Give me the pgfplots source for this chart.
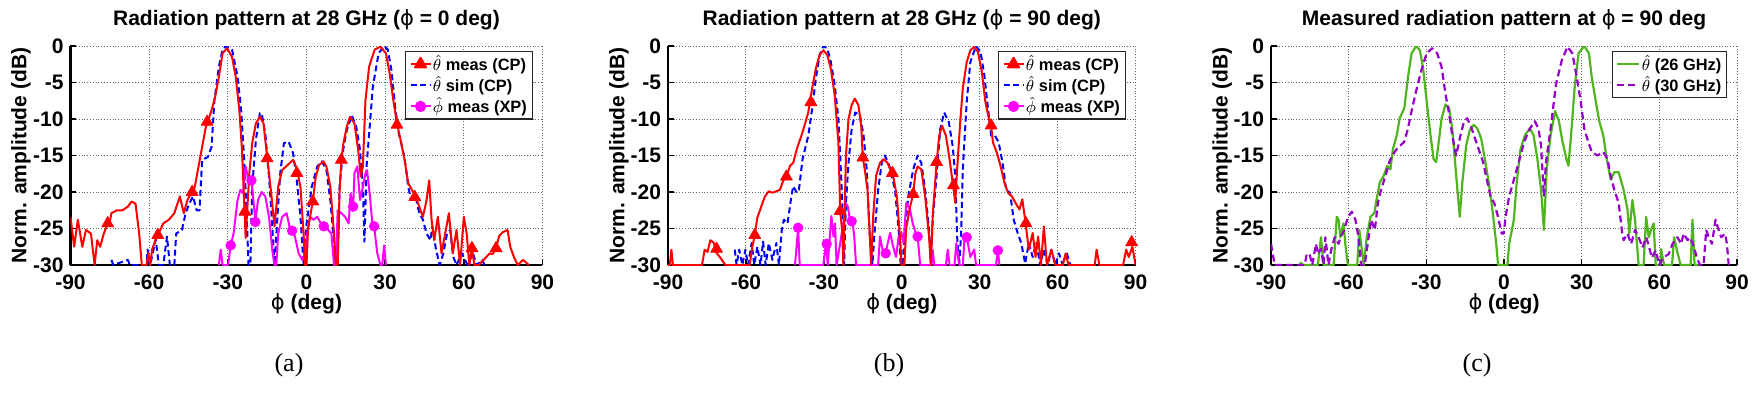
\documentclass[border=0pt]{standalone}
\usepackage{pgfplots}
\pgfplotsset{compat=1.18}
\usepackage{fontspec}
\setmainfont{Liberation Sans}
\newfontfamily\capfont{Liberation Serif}
\newfontfamily\dejavu{DejaVu Sans}
\newcommand{\ph}{{\mdseries\dejavu ϕ}}
\definecolor{g26}{RGB}{80,180,30}
\definecolor{p30}{RGB}{150,0,200}
\definecolor{mag}{RGB}{255,0,255}
\definecolor{rd}{RGB}{255,0,0}
\definecolor{bl}{RGB}{0,0,255}
\pgfplotsset{
  rp/.style={
    scale only axis, height=109.5pt,
    xmin=-90, xmax=90, ymin=-30, ymax=0,
    xtick={-90,-60,-30,0,30,60,90}, ytick={-30,-25,-20,-15,-10,-5,0},
    xticklabels={-90,-60,-30,0,30,60,90}, yticklabels={-30,-25,-20,-15,-10,-5,0},
    axis x line*=bottom, axis y line*=left,
    axis line style={line width=1.2pt,-},
    grid=major, major grid style={densely dotted, black!60, line width=0.5pt},
    tick align=inside, major tick length=3pt, tick style={black, line width=0.8pt},
    ticklabel style={font=\bfseries\fontsize{10.5}{12}\selectfont},
    xticklabel style={anchor=base, yshift=-12.25pt},
    xlabel={\ph\ (deg)}, ylabel={Norm. amplitude (dB)},
    label style={font=\bfseries\fontsize{10.5}{12}\selectfont},
    xlabel style={at={(axis description cs:0.5,0)}, anchor=base, yshift=-22pt},
    ylabel style={at={(axis description cs:-0.105,0.5)}, anchor=center},
    title style={at={(axis description cs:0.5,1)}, anchor=base, yshift=4.5pt, font=\bfseries\fontsize{10.5}{12}\selectfont},
    legend cell align=left,
    legend style={at={(axis description cs:1,1)}, anchor=north east, xshift=-4.8pt, yshift=-2.5pt,
      draw=black!85, line width=0.6pt, fill=white, font=\bfseries\fontsize{8.2}{8.2}\selectfont,
      inner xsep=2pt, inner ysep=1pt, row sep=0pt, nodes={inner sep=0.7pt}},
    legend image code/.code={\draw[mark repeat=2,mark phase=2,#1] plot coordinates {(0pt,0pt)(5pt,0pt)(10pt,0pt)};},
    every axis plot/.append style={line join=round},
  },
  redl/.style={rd, line width=1pt, mark=none},
  redm/.style={rd, only marks, mark=triangle*, mark size=3.4pt, mark options={solid, fill=rd}},
  bluel/.style={bl, line width=1pt, dash pattern=on 3pt off 1.8pt, mark=none},
  magl/.style={mag, line width=1pt, mark=none},
  magm/.style={mag, only marks, mark=*, mark size=2.4pt, mark options={solid, fill=mag}},
}
\begin{document}
\begin{tikzpicture}
\useasboundingbox (0,0) rectangle (877pt,196pt);
% ---------------- (a)
\begin{axis}[rp, width=236pt, at={(35.25pt,63.5pt)}, anchor=south west,
  title={Radiation pattern at 28 GHz (\ph\ = 0 deg)}]
\addlegendimage{rd, line width=1pt, mark=triangle*, mark size=3.2pt, mark options={fill=rd}}
\addlegendentry{$\hat{\theta}$ meas (CP)}
\addlegendimage{bl, line width=1pt, dash pattern=on 3pt off 1.8pt}
\addlegendentry{$\hat{\theta}$ sim (CP)}
\addlegendimage{mag, line width=1pt, mark=*, mark size=2.3pt, mark options={fill=mag}}
\addlegendentry{$\hat{\phi}$ meas (XP)}
\addplot[bluel, forget plot] coordinates {(-74.4,-29.3)(-73.7,-30)(-68.1,-29.3)(-67.4,-30)(-61.0,-30)(-60.6,-27.9)(-59.6,-30)(-57.5,-26.5)(-56.3,-30)(-54.6,-30)(-53.2,-26.1)(-52.1,-30)(-50.4,-30)(-49.7,-25.7)(-47.5,-25.2)(-46.1,-22.9)(-44.7,-21.6)(-43.3,-20.6)(-41.9,-22.5)(-40.8,-22.5)(-39.8,-15.6)(-37.6,-15.2)(-36.2,-13.8)(-35.1,-7.4)(-33.4,-2.8)(-32.0,-0.5)(-30.8,0)(-28.4,-0.5)(-26.3,-4.2)(-24.9,-8.8)(-24.2,-12.9)(-23.5,-17.4)(-22.8,-23.4)(-22.1,-30)(-21.4,-30)(-20.7,-19.3)(-19.3,-12.9)(-17.8,-9.2)(-17.1,-9.2)(-15.7,-12.0)(-14.3,-17.9)(-13.2,-23.8)(-12.2,-30)(-11.0,-22.9)(-10.0,-17.4)(-8.6,-13.3)(-6.8,-13.1)(-5.1,-14.7)(-3.7,-18.4)(-2.3,-23.4)(-1.1,-30)(-0.1,-24.7)(2.0,-19.3)(4.1,-16.5)(5.9,-15.8)(7.6,-17.0)(9.1,-21.1)(10.2,-25.7)(11.2,-30)(11.9,-30)(12.6,-19.3)(14.0,-14.2)(15.4,-11.5)(17.3,-9.5)(19.0,-11.1)(20.4,-14.2)(21.5,-19.3)(22.1,-26.8)(22.9,-16.5)(23.9,-12.0)(25.3,-5.6)(27.5,-1.0)(29.6,0)(31.0,-0.5)(32.4,-3.3)(33.8,-8.3)(35.2,-12.0)(37.4,-15.2)(38.8,-19.3)(39.9,-21.1)(41.6,-20.6)(43.0,-22.9)(44.4,-23.8)(45.8,-25.7)(47.3,-26.6)(48.0,-24.7)(49.4,-27.9)(50.8,-30)(52.2,-28.4)(53.6,-25.7)(54.8,-25.2)(56.0,-28.9)(57.2,-30)(59.3,-28.4)(61.4,-30)(63.5,-28.4)(64.9,-30)(67.1,-29.3)(67.8,-30)};
\addplot[magl, forget plot] coordinates {(-33.4,-30)(-32.7,-27.9)(-32.0,-30)(-29.9,-30)(-28.9,-27.3)(-27.8,-25.7)(-26.3,-21.1)(-25.2,-19.7)(-24.2,-20.2)(-23.2,-16.5)(-22.1,-18.4)(-21.0,-18.4)(-20.0,-22.0)(-19.5,-24.1)(-18.5,-21.1)(-17.1,-20.0)(-15.7,-20.6)(-14.3,-23.4)(-12.9,-28.4)(-12.2,-30)(-11.5,-30)(-10.8,-25.7)(-9.3,-23.4)(-7.6,-22.9)(-6.5,-24.7)(-5.5,-25.3)(-4.4,-26.1)(-3.0,-28.4)(-1.6,-29.3)(-0.6,-28.4)(0.3,-25.7)(1.3,-23.4)(2.7,-23.8)(4.1,-23.4)(5.5,-24.3)(6.6,-24.7)(8.3,-25.2)(9.5,-25.7)(10.5,-30)(11.2,-30)(11.9,-22.5)(13.3,-22.9)(14.7,-23.4)(16.1,-24.3)(16.8,-20.2)(17.8,-22.0)(18.3,-17.4)(19.4,-16.5)(20.4,-21.1)(21.5,-19.3)(22.5,-17.4)(23.1,-17.0)(24.2,-20.6)(25.2,-24.7)(25.8,-24.7)(27.0,-28.4)(28.2,-30)(28.9,-30)(29.6,-27.3)(30.3,-30)};
\addplot[magm, forget plot] coordinates {(-28.9,-27.3)(-21.0,-18.4)(-19.5,-24.1)(-5.5,-25.3)(6.6,-24.7)(17.8,-22.0)(25.8,-24.7)};
\addplot[redl, forget plot] coordinates {(-90,-23.4)(-88.6,-27.5)(-87.2,-23.8)(-85.5,-27.5)(-84.1,-25.2)(-82.2,-25.7)(-80.8,-30)(-79.8,-26.6)(-78.7,-27.5)(-77.3,-25.7)(-75.8,-24.3)(-75.1,-24.3)(-74.4,-22.9)(-72.3,-22.5)(-70.2,-22.5)(-68.1,-22.0)(-66.7,-21.3)(-65.2,-21.6)(-63.8,-25.7)(-62.8,-30)(-61.0,-30)(-60.3,-28.4)(-59.6,-30)(-58.9,-27.9)(-57.5,-26.5)(-56.7,-25.9)(-54.6,-24.3)(-52.5,-23.8)(-50.4,-22.9)(-48.3,-20.6)(-46.8,-22.9)(-45.4,-21.1)(-44.0,-20.2)(-42.6,-19.3)(-40.5,-15.2)(-38.4,-11.1)(-36.2,-8.8)(-34.8,-6.9)(-33.4,-4.2)(-32.0,-1.0)(-30.3,-0.3)(-28.4,-1.5)(-27.0,-4.2)(-25.6,-8.8)(-24.6,-14.2)(-23.8,-21.1)(-23.2,-26.3)(-21.8,-17.4)(-20.7,-13.3)(-19.3,-10.6)(-17.8,-9.7)(-16.4,-10.6)(-15.0,-15.2)(-13.6,-19.7)(-12.2,-24.7)(-10.8,-19.3)(-9.3,-17.0)(-7.2,-16.3)(-5.1,-15.6)(-3.7,-16.8)(-2.3,-19.3)(-1.1,-25.7)(-0.6,-30)(0,-30)(0.6,-25.0)(2.4,-21.3)(3.5,-18.0)(4.8,-16.3)(6.5,-15.8)(7.6,-16.5)(9.1,-19.3)(10.5,-25.7)(11.2,-30)(11.9,-30)(12.6,-20.0)(13.3,-15.6)(14.0,-13.5)(15.4,-11.0)(16.6,-9.7)(18.3,-10.6)(19.7,-14.2)(20.7,-17.9)(21.5,-16.5)(22.5,-7.4)(23.9,-2.8)(26.0,-0.5)(28.2,-0.1)(30.3,-1.0)(31.7,-3.7)(33.1,-7.4)(34.5,-10.6)(35.9,-12.9)(37.4,-15.6)(38.8,-18.8)(40.2,-19.7)(41.6,-20.6)(43.0,-22.0)(44.4,-23.4)(45.8,-21.1)(46.8,-18.4)(47.7,-23.8)(48.7,-26.6)(50.1,-23.4)(51.5,-28.4)(52.9,-25.7)(54.3,-22.9)(55.8,-28.4)(57.2,-25.2)(58.6,-30)(60.0,-23.4)(61.1,-25.7)(62.1,-30)(63.1,-27.7)(64.0,-30)(65.7,-30)(69.9,-28.4)(71.0,-28.5)(72.3,-27.7)(73.5,-26.0)(74.9,-25.5)(76.7,-25.2)(77.7,-27.5)(79.1,-28.9)(80.5,-30)(82.6,-29.3)(84.8,-30)};
\addplot[redm, forget plot] coordinates {(-75.8,-24.3)(-56.7,-25.9)(-43.6,-20)(-37.9,-10.4)(-23.5,-22.7)(-15.0,-15.4)(-3.7,-17.4)(2.4,-21.3)(13.3,-15.6)(34.5,-10.8)(41.3,-20.7)(63.1,-27.7)(72.3,-27.7)};
\end{axis}
% ---------------- (b)
\begin{axis}[rp, width=233.75pt, at={(334pt,63.5pt)}, anchor=south west,
  title={Radiation pattern at 28 GHz (\ph\ = 90 deg)}]
\addlegendimage{rd, line width=1pt, mark=triangle*, mark size=3.2pt, mark options={fill=rd}}
\addlegendentry{$\hat{\theta}$ meas (CP)}
\addlegendimage{bl, line width=1pt, dash pattern=on 3pt off 1.8pt}
\addlegendentry{$\hat{\theta}$ sim (CP)}
\addlegendimage{mag, line width=1pt, mark=*, mark size=2.3pt, mark options={fill=mag}}
\addlegendentry{$\hat{\phi}$ meas (XP)}
\addplot[bluel, forget plot] coordinates {(-64.3,-27.9)(-63.6,-30)(-62.6,-27.9)(-61.4,-30)(-60.2,-27.9)(-59.2,-30)(-57.8,-27.0)(-56.8,-30)(-55.6,-27.5)(-54.4,-30)(-53.4,-26.8)(-52.4,-30)(-51.2,-27.0)(-49.8,-29.3)(-48.3,-27.0)(-47.3,-30)(-46.2,-25.2)(-45.4,-23.8)(-44.0,-24.3)(-42.5,-20.6)(-41.8,-19.2)(-40.4,-20.1)(-39.6,-19.7)(-38.2,-15.5)(-36.0,-12.3)(-34.5,-8.6)(-33.1,-4.5)(-31.6,-1.2)(-30.2,0)(-28.7,-0.3)(-27.3,-2.2)(-25.8,-5.4)(-24.4,-10.0)(-23.7,-15.0)(-22.9,-21.5)(-22.2,-30)(-21.5,-21.5)(-20.5,-16.0)(-19.3,-11.4)(-17.9,-9.1)(-16.1,-9.5)(-14.7,-12.3)(-13.5,-16.9)(-12.3,-26.1)(-11.3,-30)(-10.6,-26.1)(-9.1,-19.7)(-7.7,-16.0)(-6.5,-15.0)(-4.8,-16.4)(-2.6,-19.7)(-1.2,-25.2)(-0.4,-30)(0.3,-30)(1.0,-26.1)(2.5,-20.6)(4.4,-16.9)(6.1,-15.0)(7.5,-16.0)(9.0,-19.7)(10.5,-25.2)(11.2,-30)(11.9,-23.8)(13.4,-17.8)(14.8,-11.4)(16.3,-9.1)(18.1,-10.4)(19.6,-13.7)(20.6,-17.8)(21.3,-26.1)(22.1,-30)(22.8,-26.1)(23.5,-16.9)(25.0,-7.7)(26.4,-2.2)(28.6,0)(30.3,-0.8)(31.8,-4.0)(33.2,-8.6)(34.4,-12.3)(35.9,-12.3)(37.3,-13.2)(38.8,-16.0)(40.2,-19.7)(41.7,-20.1)(43.1,-23.8)(44.6,-25.6)(46.0,-27.0)(47.5,-29.8)(48.9,-27.0)(50.4,-28.9)(51.8,-27.0)(53.3,-30)(54.7,-27.9)(56.2,-30)(57.6,-27.9)(59.1,-30)(60.5,-28.4)(62.0,-30)(63.4,-28.2)(64.9,-30)(66.3,-30)};
\addplot[magl, forget plot] coordinates {(-41.1,-30)(-39.9,-24.9)(-39.3,-30)(-30.2,-30)(-29.2,-27.0)(-28.5,-30)(-27.7,-26.1)(-27.1,-23.3)(-26.3,-26.1)(-25.7,-24.3)(-25.1,-30)(-23.7,-27.0)(-22.5,-24.3)(-21.6,-21.5)(-20.8,-22.0)(-19.9,-23.8)(-19.0,-24.0)(-18.3,-26.1)(-17.6,-30)(-9.1,-30)(-8.4,-26.1)(-7.4,-27.9)(-6.2,-28.4)(-5.4,-27.0)(-4.5,-25.6)(-3.3,-27.5)(-2.2,-28.9)(-1.2,-26.1)(-0.1,-25.6)(0.7,-27.0)(1.7,-21.5)(3.2,-22.4)(4.2,-24.3)(5.4,-25.6)(6.1,-26.1)(7.1,-30)(11.4,-30)(11.9,-27.9)(12.5,-30)(17.0,-30)(17.7,-27.9)(18.4,-30)(20.3,-30)(21.0,-27.0)(22.1,-30)(23.5,-30)(24.2,-26.1)(25.0,-26.1)(26.4,-28.9)(27.9,-27.9)(28.6,-30)(36.3,-30)(37.0,-28.0)(37.6,-30)};
\addplot[magm, forget plot] coordinates {(-39.9,-24.9)(-28.9,-27.1)(-19.3,-24.0)(-6.2,-28.4)(6.1,-26.1)(25.0,-26.2)(37.0,-28.0)};
\addplot[redl, forget plot] coordinates {(-90,-30)(-89.3,-30)(-88.7,-27.9)(-88.1,-30)(-76.9,-30)(-75.9,-27.9)(-74.8,-28.2)(-73.7,-26.6)(-72.3,-27.0)(-71.6,-28.2)(-70.1,-28.9)(-67.9,-30)(-58.5,-30)(-57.8,-28.0)(-56.6,-25.9)(-55.6,-23.5)(-54.1,-22.0)(-52.7,-20.6)(-51.2,-19.9)(-49.8,-20.1)(-48.3,-19.9)(-46.9,-19.7)(-45.7,-18.5)(-44.4,-17.9)(-43.0,-16.4)(-41.8,-16.0)(-40.4,-14.1)(-38.2,-11.8)(-36.0,-9.1)(-34.5,-5.8)(-33.1,-3.1)(-31.6,-1.2)(-30.2,-0.6)(-28.7,-1.2)(-27.3,-3.1)(-25.8,-6.8)(-24.4,-13.2)(-23.7,-22.6)(-22.9,-25.5)(-22.5,-30)(-21.9,-21.5)(-21.5,-15.0)(-20.5,-10.0)(-19.3,-8.1)(-18.1,-7.2)(-16.7,-8.1)(-15.6,-11.0)(-15.0,-15.3)(-14.2,-17.0)(-13.2,-19.7)(-12.3,-26.1)(-11.8,-30)(-11.0,-23.3)(-9.9,-17.8)(-8.4,-16.0)(-7.0,-15.5)(-5.5,-16.0)(-3.3,-17.8)(-1.9,-20.6)(-0.7,-26.1)(-0.1,-30)(1.0,-30)(1.7,-25.0)(3.2,-22.0)(4.4,-20.3)(5.2,-17.5)(6.1,-16.5)(7.5,-16.9)(9.0,-20.6)(10.5,-26.1)(11.2,-30)(11.9,-23.3)(13.4,-16.0)(14.4,-12.3)(15.5,-10.9)(17.0,-12.3)(18.4,-15.5)(19.6,-18.7)(20.6,-21.5)(21.3,-16.9)(22.5,-10.4)(23.5,-5.8)(25.0,-2.2)(26.4,-0.6)(27.9,-0.1)(29.3,-0.8)(30.8,-3.5)(32.2,-7.7)(33.7,-10.2)(34.4,-10.9)(35.1,-13.2)(36.6,-14.6)(38.0,-16.4)(39.5,-18.7)(40.9,-20.1)(42.4,-20.6)(43.8,-21.5)(45.3,-22.4)(46.4,-21.0)(47.5,-23.8)(48.9,-27.9)(50.4,-25.6)(51.5,-28.9)(52.5,-26.1)(53.6,-30)(54.7,-24.7)(55.9,-30)(57.6,-27.9)(59.1,-30)(62.0,-30)(63.1,-28.4)(64.2,-30)(74.3,-30)(75.0,-27.9)(76.1,-30)(85.2,-30)(86.4,-27.9)(87.4,-28.9)(88.8,-27.5)(90,-30)};
\addplot[redm, forget plot] coordinates {(-71.3,-27.8)(-56.6,-25.9)(-44.4,-17.9)(-35.0,-7.7)(-23.7,-22.6)(-15.0,-15.3)(-3.6,-17.4)(4.4,-20.3)(13.4,-15.9)(19.9,-19.1)(34.4,-10.9)(47.8,-24.3)(88.5,-26.9)};
\end{axis}
% ---------------- (c)
\begin{axis}[rp, width=233pt, at={(635.5pt,63.5pt)}, anchor=south west,
  title={Measured radiation pattern at \ph\ = 90 deg},
  legend image code/.code={\draw[#1] (0pt,0pt) -- (11pt,0pt);}]
\addlegendimage{g26, line width=1.1pt}
\addlegendentry{$\hat{\theta}$ (26 GHz)}
\addlegendimage{p30, line width=1.1pt, dash pattern=on 3.5pt off 2pt}
\addlegendentry{$\hat{\theta}$ (30 GHz)}
\addplot[g26, line width=1.1pt, forget plot] coordinates {(-79.1,-30)(-78.4,-29.7)(-77.7,-30)(-71.9,-30)(-70.7,-26.2)(-69.7,-30)(-65.8,-30)(-64.6,-23.4)(-63.9,-23.8)(-63.2,-26.2)(-62.0,-24.3)(-61.3,-27.1)(-60.3,-30)(-56.7,-30)(-55.9,-25.2)(-55.2,-27.1)(-54.2,-30)(-53.0,-26.2)(-51.6,-23.4)(-50.1,-22.9)(-49.0,-20.6)(-48.0,-18.7)(-46.5,-17.8)(-45.1,-16.4)(-43.9,-16.9)(-42.9,-14.1)(-41.4,-12.2)(-40.3,-9.9)(-38.5,-8.5)(-37.1,-4.3)(-35.7,-1.0)(-33.9,0)(-32.5,-0.6)(-31.3,-2.9)(-29.9,-7.5)(-28.4,-12.2)(-27.2,-15.5)(-26.2,-15.9)(-25.2,-13.1)(-24.1,-9.9)(-22.6,-8.0)(-21.2,-8.5)(-20.0,-11.3)(-19.0,-15.5)(-18.0,-19.7)(-17.1,-23.4)(-16.1,-18.7)(-14.6,-13.6)(-13.2,-11.5)(-11.7,-10.8)(-10.3,-11.3)(-8.8,-12.7)(-7.4,-15.5)(-5.9,-18.7)(-4.5,-22.4)(-3.0,-27.1)(-2.3,-30)(1.3,-30)(2.0,-27.1)(3.8,-23.8)(4.9,-18.7)(6.4,-14.1)(8.1,-12.2)(10.0,-11.3)(11.4,-12.2)(12.9,-15.5)(14.3,-19.7)(15.4,-25.2)(16.5,-16.9)(18.0,-12.2)(19.7,-8.9)(21.2,-10.3)(22.6,-13.1)(24.1,-15.5)(24.9,-16.4)(25.9,-12.2)(27.4,-5.2)(28.8,-1.0)(31.0,0)(32.8,-1.0)(33.9,-4.3)(35.4,-7.5)(36.8,-10.3)(38.3,-12.2)(39.7,-15.5)(41.2,-18.3)(42.6,-17.3)(44.3,-17.3)(46.2,-19.7)(47.7,-22.4)(48.4,-25.7)(49.6,-21.1)(50.6,-23.8)(52.0,-30)(53.9,-30)(54.9,-23.4)(55.9,-26.2)(56.8,-25.2)(57.8,-24.3)(58.6,-30)(60.4,-30)(60.7,-27.8)(61.8,-30)(64.9,-30)(65.7,-26.2)(66.8,-28.0)(68.2,-30)(72.1,-30)(72.8,-23.8)(73.6,-30)(75.2,-30)};
\addplot[p30, line width=1.1pt, dash pattern=on 3.5pt off 2pt, forget plot] coordinates {(-90,-27.1)(-89.3,-28.5)(-88.6,-30)(-77.0,-30)(-76.2,-28.5)(-75.1,-28.5)(-74.1,-30)(-72.6,-27.1)(-71.9,-28.5)(-70.7,-27.8)(-69.7,-30)(-69.0,-26.2)(-67.8,-30)(-66.8,-28.0)(-65.4,-26.2)(-63.9,-27.1)(-63.2,-26.2)(-61.7,-25.2)(-60.3,-23.4)(-58.8,-22.7)(-57.4,-23.8)(-56.2,-26.2)(-55.2,-30)(-53.8,-30)(-52.3,-26.2)(-51.3,-23.8)(-49.9,-25.2)(-48.7,-21.5)(-47.5,-19.7)(-45.8,-17.8)(-44.3,-15.9)(-43.2,-15.0)(-41.4,-14.1)(-38.5,-13.1)(-37.1,-11.3)(-35.7,-8.9)(-33.9,-6.1)(-32.0,-3.4)(-29.9,-1.0)(-27.7,-0.3)(-25.8,-1.0)(-24.1,-2.9)(-22.6,-6.6)(-21.4,-8.9)(-20.0,-12.2)(-18.5,-15.0)(-16.8,-12.2)(-15.4,-10.3)(-14.2,-9.9)(-12.5,-11.3)(-10.3,-13.6)(-8.1,-15.9)(-6.4,-18.7)(-5.2,-20.6)(-3.8,-21.5)(-2.3,-23.4)(-0.9,-25.7)(-0.1,-25.7)(0.6,-23.4)(2.0,-20.6)(3.5,-18.7)(5.7,-15.9)(7.8,-13.1)(10.0,-11.3)(11.9,-10.3)(13.3,-11.3)(14.3,-13.6)(15.4,-20.6)(16.2,-15.9)(18.0,-11.3)(20.1,-5.2)(22.3,-2.0)(24.5,-0.1)(26.4,-1.0)(28.1,-4.3)(29.6,-7.5)(31.0,-11.3)(32.5,-13.1)(33.9,-14.5)(36.1,-15.0)(38.3,-14.5)(40.0,-15.5)(41.2,-17.8)(42.6,-19.7)(44.3,-21.5)(45.5,-25.2)(46.2,-26.6)(47.7,-25.7)(49.1,-27.1)(50.6,-25.2)(52.0,-26.2)(53.5,-27.6)(54.9,-26.2)(55.7,-27.1)(57.1,-29.0)(58.6,-28.0)(60.0,-30)(61.5,-29.0)(63.6,-28.5)(65.1,-27.1)(67.0,-26.2)(68.4,-27.1)(69.4,-25.7)(70.9,-26.6)(71.6,-26.2)(73.0,-27.1)(74.5,-29.0)(75.7,-30)(77.1,-30)(78.1,-25.2)(79.1,-26.2)(80.3,-27.1)(81.7,-23.8)(82.9,-25.2)(83.9,-26.2)(85.4,-25.7)(86.1,-27.1)(86.8,-30)};
\end{axis}
% captions
\node[font=\capfont\fontsize{13}{15}\selectfont] at (144.5pt,13.5pt) {(a)};
\node[font=\capfont\fontsize{13}{15}\selectfont] at (444.5pt,13.5pt) {(b)};
\node[font=\capfont\fontsize{13}{15}\selectfont] at (738.5pt,13.5pt) {(c)};
\end{tikzpicture}
\end{document}
